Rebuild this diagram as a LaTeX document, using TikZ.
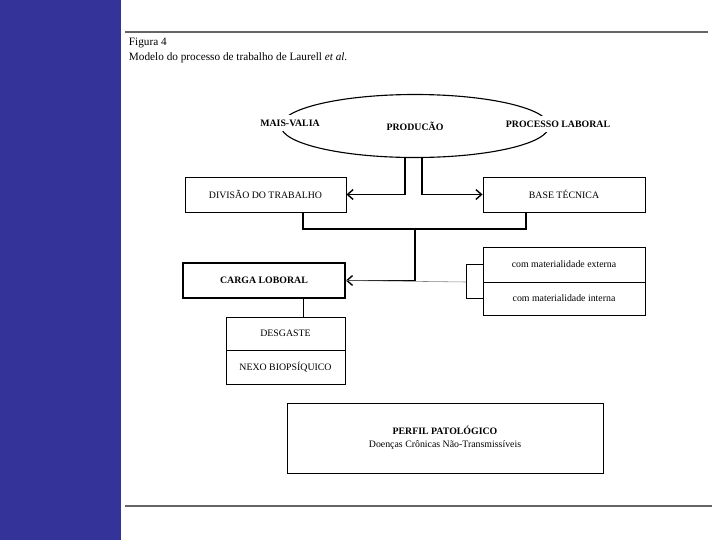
\documentclass[tikz,border=0pt]{standalone}
\usepackage{fontspec}
\setmainfont{Liberation Serif}
\usetikzlibrary{shapes.geometric, arrows.meta}
\definecolor{sidebar}{RGB}{51,51,153}
\definecolor{rulegray}{RGB}{100,100,100}
\tikzset{
    labfont/.style={font=\fontsize{7}{8.5}\selectfont},
    box/.style={draw, fill=white, inner sep=0pt, labfont, line width=0.6pt},
    ovallabel/.style={fill=white, inner xsep=1pt, inner ysep=3.5pt, font=\fontsize{7}{8.5}\selectfont\bfseries},
    conn/.style={line width=1pt},
    arr/.style={line width=1pt, -{Straight Barb[length=4pt, width=7pt]}},
    thinconn/.style={line width=0.4pt}
}
\begin{document}
\begin{tikzpicture}[x=0.025cm, y=-0.025cm]
        \useasboundingbox (0,0) rectangle (720,540);
        % Page frame: sidebar and rules
        \fill[sidebar] (0,0) rectangle (120.5,540);
        \draw[rulegray, line width=1.4pt] (125,32) -- (708,32);
        \draw[rulegray, line width=1.4pt] (125,506) -- (712,506);

        % Caption
        \node[anchor=west, font=\fontsize{8}{9}\selectfont] (fig) at (124,43) {Figura 4};
        \node[anchor=west, font=\fontsize{8}{9}\selectfont] (cap) at (124,58) {Modelo do processo de trabalho de Laurell \textit{et al.}};

        % Production ellipse
        \node[ellipse, draw, line width=0.8pt, inner sep=0pt, minimum width=268*0.025cm, minimum height=63*0.025cm, font=\fontsize{7}{8.5}\selectfont\bfseries] (prod) at (415,126) {PRODUCÃO};
        \node[ovallabel] (mais) at (290,123) {MAIS-VALIA};
        \node[ovallabel] (proc) at (558,124) {PROCESSO LABORAL};

        % Boxes of the second row
        \node[box, minimum width=161*0.025cm, minimum height=35*0.025cm] (div) at (265.5,194.5) {DIVISÃO DO TRABALHO};
        \node[box, minimum width=162*0.025cm, minimum height=35*0.025cm] (base) at (564,194.5) {BASE TÉCNICA};

        % Carga laboral and its materialities
        \node[box, line width=1.2pt, font=\fontsize{7}{8.5}\selectfont\bfseries, minimum width=162*0.025cm, minimum height=35*0.025cm] (carga) at (264,280.5) {CARGA LOBORAL};
        \node[box, minimum width=162*0.025cm, minimum height=35*0.025cm] (matext) at (564,264.5) {com materialidade externa};
        \node[box, minimum width=162*0.025cm, minimum height=33*0.025cm] (matint) at (564,298.5) {com materialidade interna};

        % Desgaste / nexo biopsiquico
        \node[box, minimum width=119*0.025cm, minimum height=33*0.025cm] (desg) at (285.5,333.5) {DESGASTE};
        \node[box, minimum width=119*0.025cm, minimum height=34*0.025cm] (nexo) at (285.5,367) {NEXO BIOPSÍQUICO};

        % Pathological profile
        \node[box, align=center, minimum width=316*0.025cm, minimum height=70*0.025cm] (perfil) at (445,438)
            {\textbf{PERFIL PATOLÓGICO}\\[1pt] Doenças Crônicas Não-Transmissíveis};

        % Junction points of the connectors
        \coordinate (prodl) at (405,194.5);
        \coordinate (prodr) at (422,194.5);
        \coordinate (divdown) at (303,229);
        \coordinate (basedown) at (526,229);
        \coordinate (join) at (415,229);
        \coordinate (brk) at (466,282);

        % Arrows from the ellipse
        \draw[arr] (prodl |- prod.south) -- (prodl) -- (div.east);
        \draw[arr] (prodr |- prod.south) -- (prodr) -- (base.west);

        % Joining line and arrow to carga
        \draw[conn] (divdown |- div.south) -- (divdown) -- (basedown) -- (basedown |- base.south);
        \draw[arr] (join) |- (carga.east);

        % Bracket to the materialities
        \draw[thinconn, gray] (carga.east) -- (brk);
        \draw[thinconn] (matext.west) -| (brk) |- (matint.west);

        % Carga down to desgaste
        \draw[thinconn] (divdown |- carga.south) -- (divdown |- desg.north);
\end{tikzpicture}
\end{document}
